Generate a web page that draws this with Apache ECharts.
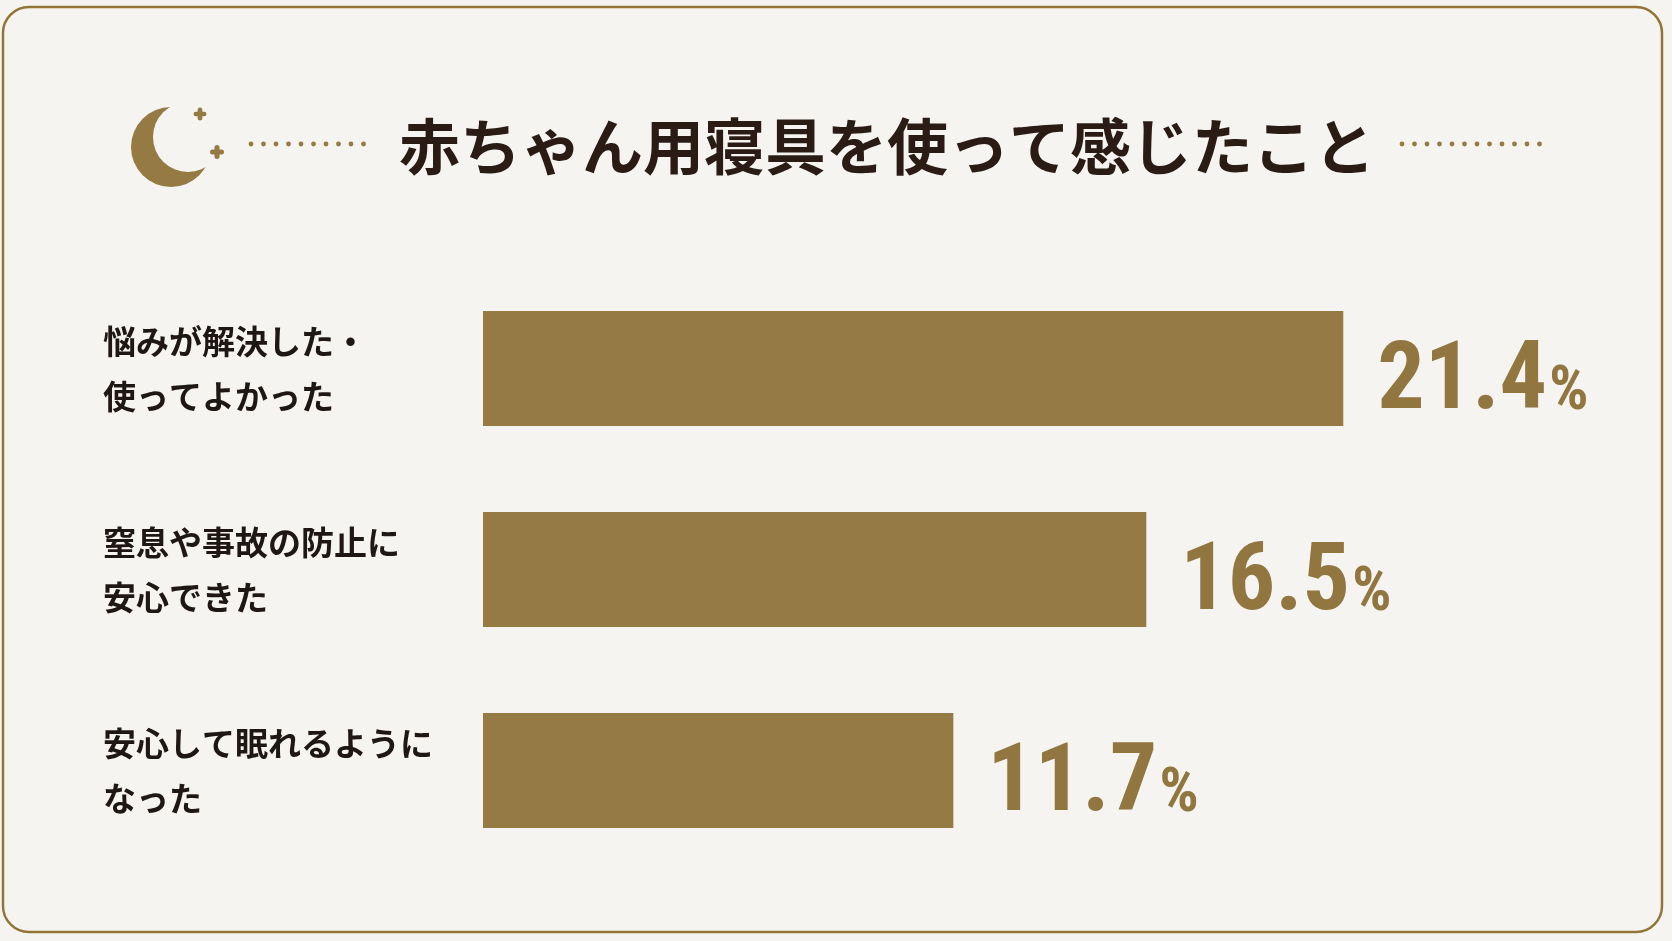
<!DOCTYPE html>
<html>
<head>
<meta charset="utf-8">
<title>赤ちゃん用寝具を使って感じたこと</title>
<script src="https://cdn.jsdelivr.net/npm/echarts@6/dist/echarts.min.js"></script>
<style>
  html, body { margin: 0; padding: 0; background: #f6f4f1; }
  #chart { width: 1672px; height: 941px; }
</style>
</head>
<body>
<div id="chart"></div>
<script>
// data
var categories = [
    '悩みが解決した・\n使ってよかった',
    '窒息や事故の防止に\n安心できた',
    '安心して眠れるように\nなった'
];
var values = [21.4, 16.5, 11.7];

var gold = '#957a43';
var bg = '#f6f4f1';

var myChart = echarts.init(document.getElementById('chart'));

// decorations (moon, stars, dotted rules, frame)
var graphics = [
    {
        type: 'rect',
        shape: { x: 3, y: 7, width: 1659, height: 925, r: 26 },
        style: { fill: bg, stroke: '#927536', lineWidth: 2.5 },
        z: -10
    },
    { type: 'circle', shape: { cx: 171, cy: 147, r: 40 }, style: { fill: gold } },
    { type: 'circle', shape: { cx: 188, cy: 137, r: 35 }, style: { fill: bg } }
];

function addStar(cx, cy, s) {
    var t = s * 0.36;
    graphics.push({ type: 'rect', shape: { x: cx - s / 2, y: cy - t / 2, width: s, height: t, r: t / 2 }, style: { fill: gold } });
    graphics.push({ type: 'rect', shape: { x: cx - t / 2, y: cy - s / 2, width: t, height: s, r: t / 2 }, style: { fill: gold } });
}
addStar(200, 114, 13);
addStar(217, 152, 14);

function addDots(x0, n, y) {
    for (var i = 0; i < n; i++) {
        graphics.push({ type: 'circle', shape: { cx: x0 + i * 12.5, cy: y, r: 2.4 }, style: { fill: gold } });
    }
}
addDots(251, 10, 144);
addDots(1402, 12, 144);

var numFont = "'Liberation Sans Narrow', 'Roboto Condensed', Lato";

var option = {
    backgroundColor: bg,
    animation: false,
    graphic: graphics,
    title: {
        text: '赤ちゃん用寝具を使って感じたこと',
        left: 394,
        top: 111,
        textStyle: {
            fontFamily: 'Noto Sans CJK JP',
            fontSize: 61,
            fontWeight: 'bold',
            color: '#2a1c14'
        }
    },
    grid: {
        left: 483,
        top: 268,
        width: 1005,
        height: 603
    },
    xAxis: {
        type: 'value',
        min: 0,
        max: 25,
        show: false
    },
    yAxis: {
        type: 'category',
        data: categories,
        inverse: true,
        axisLine: { show: false },
        axisTick: { show: false },
        splitLine: { show: false },
        axisLabel: {
            align: 'left',
            margin: 380,
            fontFamily: 'Noto Sans CJK JP',
            fontSize: 33,
            fontWeight: 600,
            lineHeight: 55,
            color: '#1f1713'
        }
    },
    series: [
        {
            type: 'bar',
            data: values,
            barWidth: 115,
            itemStyle: { color: gold },
            label: {
                show: true,
                position: 'right',
                distance: 34,
                offset: [0, 11],
                formatter: function (p) {
                    return '{n|' + p.value.toFixed(1) + '}{p|%}';
                },
                rich: {
                    n: {
                        fontFamily: numFont,
                        fontWeight: 'bold',
                        fontSize: 94,
                        color: '#917640',
                        verticalAlign: 'bottom',
                        lineHeight: 104
                    },
                    p: {
                        fontFamily: numFont,
                        fontWeight: 'bold',
                        fontSize: 62,
                        color: '#917640',
                        verticalAlign: 'bottom',
                        padding: [0, 0, 7, 2],
                        lineHeight: 64
                    }
                }
            }
        }
    ]
};

myChart.setOption(option);
</script>
</body>
</html>
